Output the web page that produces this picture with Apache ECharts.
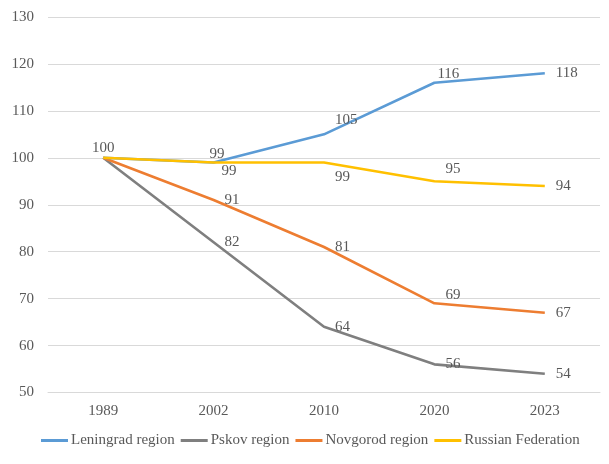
<!DOCTYPE html>
<html>
<head>
<meta charset="utf-8">
<script src="https://cdn.jsdelivr.net/npm/echarts@6/dist/echarts.min.js"></script>
<style>
html,body{margin:0;padding:0;background:#fff;}
#c{width:609px;height:464px;}
</style>
</head>
<body>
<div id="c"></div>
<script>
var categories = ['1989', '2002', '2010', '2020', '2023'];
var leningrad = [100, 99, 105, 116, 118];
var pskov = [100, 82, 64, 56, 54];
var novgorod = [100, 91, 81, 69, 67];
var russia = [100, 99, 99, 95, 94];
var seriesNames = ['Leningrad region', 'Pskov region', 'Novgorod region', 'Russian Federation'];
var yTicks = { min: 50, max: 130, interval: 10 };

// label placement tweaks (style only)
var lenOffsets = [null, [-15, -8], [0, -14], [-8, -9], [0, 0]];
var rusOffsets = [null, [-3, 9], [0, 15], [0, -12], [0, 0]];
var novOffsets = [null, [0, 0], [0, 0], [0, -8], [0, 0]];
var pskOffsets = [null, [0, 0], [0, 0], [0, 0], [0, 0]];

var FONT = 'Liberation Serif';
var TXT = '#595959';
var FS = 15;

function mkData(vals, offs, showFirst) {
  return vals.map(function (v, i) {
    if (i === 0) {
      return { value: v, label: showFirst ? { show: true, position: 'top', distance: 2 } : { show: false } };
    }
    return { value: v, label: { show: true, position: 'right', distance: 11, offset: offs[i] } };
  });
}

function mkSeries(name, vals, color, offs, showFirst, z) {
  return {
    name: name,
    type: 'line',
    data: mkData(vals, offs, showFirst),
    symbol: 'circle',
    symbolSize: 0.01,
    showSymbol: true,
    z: z,
    lineStyle: { color: color, width: 2.6 },
    itemStyle: { color: color },
    label: { color: TXT, fontFamily: FONT, fontSize: FS },
    emphasis: { disabled: true },
    animation: false
  };
}

var chart = echarts.init(document.getElementById('c'), null, { renderer: 'canvas' });
chart.setOption({
  backgroundColor: '#fff',
  animation: false,
  textStyle: { fontFamily: FONT },
  grid: { left: 48, right: 9, top: 17, bottom: 71.5, containLabel: false },
  legend: {
    bottom: 11,
    left: 36,
    itemWidth: 27,
    itemHeight: 3,
    itemGap: 6,
    icon: 'rect',
    textStyle: { color: TXT, fontFamily: FONT, fontSize: FS, padding: [0, 0, 0, -2] },
    data: seriesNames
  },
  xAxis: {
    type: 'category',
    data: categories,
    boundaryGap: true,
    axisLine: { show: true, lineStyle: { color: '#d9d9d9', width: 1 } },
    axisTick: { show: false },
    axisLabel: { color: TXT, fontFamily: FONT, fontSize: FS, margin: 11 }
  },
  yAxis: {
    type: 'value',
    min: yTicks.min,
    max: yTicks.max,
    interval: yTicks.interval,
    axisLine: { show: false },
    axisTick: { show: false },
    axisLabel: { color: TXT, fontFamily: FONT, fontSize: FS, margin: 14 },
    splitLine: { lineStyle: { color: '#d9d9d9', width: 1 } }
  },
  series: [
    mkSeries(seriesNames[0], leningrad, '#5B9BD5', lenOffsets, true, 4),
    mkSeries(seriesNames[1], pskov, '#7F7F7F', pskOffsets, false, 3),
    mkSeries(seriesNames[2], novgorod, '#ED7D31', novOffsets, false, 3),
    mkSeries(seriesNames[3], russia, '#FFC000', rusOffsets, false, 5)
  ]
});
</script>
</body>
</html>
